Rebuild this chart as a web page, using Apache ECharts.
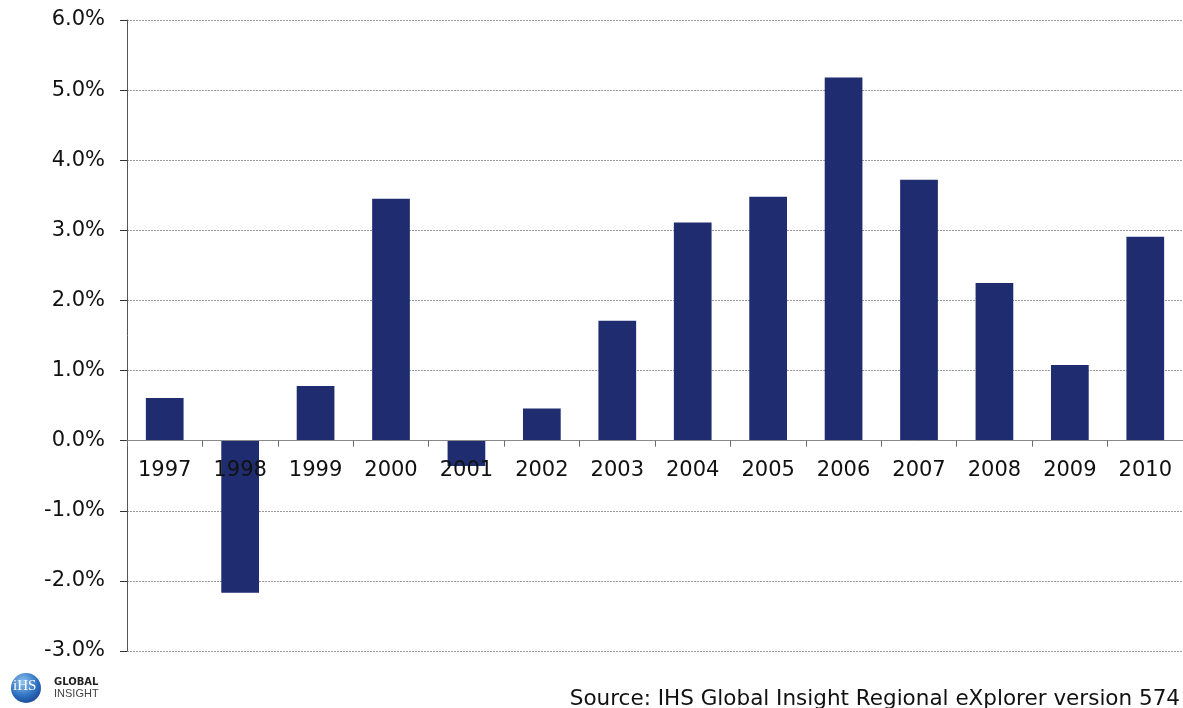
<!DOCTYPE html>
<html>
<head>
<meta charset="utf-8">
<script src="https://cdn.jsdelivr.net/npm/echarts@6/dist/echarts.min.js"></script>
<style>
  html, body { margin: 0; padding: 0; background: #fff; }
  #chart { width: 1183px; height: 708px; }
</style>
</head>
<body>
<div id="chart"></div>
<script>
// Annual growth rate, percent
const years = ['1997','1998','1999','2000','2001','2002','2003','2004','2005','2006','2007','2008','2009','2010'];
const growth = [0.61, -2.17, 0.78, 3.45, -0.36, 0.46, 1.71, 3.11, 3.48, 5.18, 3.72, 2.25, 1.08, 2.91];
const yTicks = { min: -3, max: 6, step: 1 };
const sourceNote = 'Source: IHS Global Insight Regional eXplorer version 574';

const FONT = 'DejaVu Sans, Verdana, sans-serif';
const GRID = { left: 127, top: 20, width: 1060, height: 631 };
// distance from the bottom of the plot up to the zero line
const zeroOffset = GRID.height * (0 - yTicks.min) / (yTicks.max - yTicks.min);

const chart = echarts.init(document.getElementById('chart'), null, { renderer: 'canvas' });

chart.setOption({
  animation: false,
  backgroundColor: '#ffffff',
  grid: Object.assign({ containLabel: false }, GRID),
  xAxis: {
    type: 'category',
    data: years,
    position: 'bottom',
    offset: -zeroOffset,
    z: 5,
    axisLine: { onZero: false, lineStyle: { color: '#8a8a8a', width: 1 } },
    axisTick: { show: true, length: 6, lineStyle: { color: '#6a6a6a' } },
    axisLabel: { color: '#111', fontSize: 21, fontFamily: FONT, margin: 19 },
    splitLine: { show: false }
  },
  yAxis: {
    type: 'value',
    min: yTicks.min,
    max: yTicks.max,
    interval: yTicks.step,
    axisLine: { show: true, lineStyle: { color: '#555', width: 1 } },
    axisTick: { show: true, length: 7, lineStyle: { color: '#333' } },
    axisLabel: {
      color: '#111', fontSize: 21, fontFamily: FONT, margin: 22,
      formatter: v => v.toFixed(1) + '%'
    },
    splitLine: { show: true, lineStyle: { color: '#9a9a9a', type: [2, 1], width: 1 } }
  },
  series: [{
    type: 'bar',
    data: growth,
    barWidth: '50%',
    z: 1,
    itemStyle: { color: '#1f2d70' }
  }],
  graphic: [
    {
      type: 'circle',
      shape: { cx: 26, cy: 688, r: 15 },
      style: {
        fill: new echarts.graphic.RadialGradient(0.4, 0.3, 0.8, [
          { offset: 0, color: '#8fc3f0' },
          { offset: 0.6, color: '#2d6fc0' },
          { offset: 1, color: '#1b3f8c' }
        ])
      }
    },
    {
      type: 'text',
      left: 13, top: 679,
      style: { text: 'iHS', fill: '#ffffff', font: '15px "Liberation Serif", serif' }
    },
    {
      type: 'text',
      left: 54, top: 677,
      style: { text: 'GLOBAL', fill: '#222', font: 'bold 10px "DejaVu Sans", sans-serif' }
    },
    {
      type: 'text',
      left: 54, top: 688,
      style: { text: 'INSIGHT', fill: '#444', font: '11px "Liberation Sans", sans-serif' }
    },
    {
      type: 'text',
      right: 3, top: 688,
      style: { text: sourceNote, fill: '#111', font: '21.5px ' + FONT }
    }
  ]
});
</script>
</body>
</html>
